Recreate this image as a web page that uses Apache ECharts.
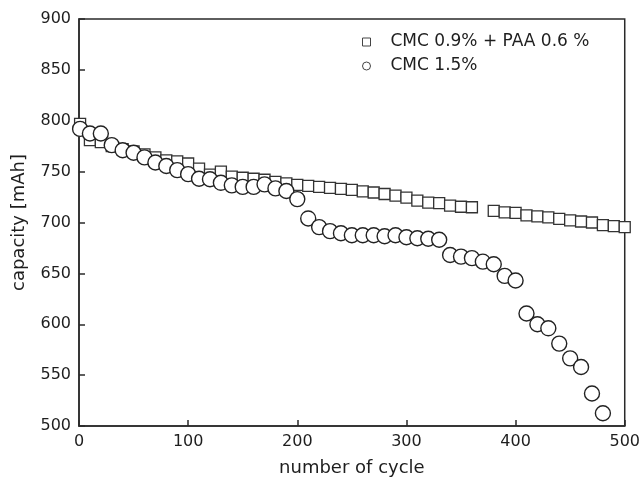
<!DOCTYPE html>
<html>
<head>
<meta charset="utf-8">
<script src="https://cdn.jsdelivr.net/npm/echarts@6/dist/echarts.min.js"></script>
<style>
  html, body { margin: 0; padding: 0; background: #fff; }
  #chart { width: 643px; height: 482px; }
</style>
</head>
<body>
<div id="chart"></div>
<script>
// cycle numbers and capacities
const cyclesPaa = [1, 10, 20, 30, 40, 50, 60, 70, 80, 90, 100, 110, 120, 130, 140, 150, 160, 170, 180, 190,
  200, 210, 220, 230, 240, 250, 260, 270, 280, 290, 300, 310, 320, 330, 340, 350, 360,
  380, 390, 400, 410, 420, 430, 440, 450, 460, 470, 480, 490, 500];
const capacityPaa = [797, 781, 779, 775, 772, 770, 767, 764, 761, 760, 758, 753, 747, 750, 745, 744, 743, 742, 740, 738.5,
  737, 736, 735, 734, 733, 732, 730.5, 729.5, 728, 726.5, 724.5, 721.5, 719.5, 719, 716.5, 715.5, 715,
  711.5, 710, 709.5, 707, 706, 705, 703.5, 702, 701, 700, 697.5, 696.5, 695.5];

const cyclesCmc = [1, 10, 20, 30, 40, 50, 60, 70, 80, 90, 100, 110, 120, 130, 140, 150, 160, 170, 180, 190,
  200, 210, 220, 230, 240, 250, 260, 270, 280, 290, 300, 310, 320, 330, 340, 350, 360, 370, 380, 390,
  400, 410, 420, 430, 440, 450, 460, 470, 480];
const capacityCmc = [792, 787.5, 787.5, 776, 771, 768.5, 764, 759, 755.5, 751.5, 747.5, 743, 742.5, 739, 736.5, 735, 735, 737.5, 733.5, 731,
  723, 704, 695.5, 691.5, 689.5, 687.5, 687.5, 687.5, 686.5, 687.5, 685.5, 684.5, 684, 683, 668, 666.5, 665, 661.5, 659, 647.5,
  643, 610.5, 600, 596, 581, 566.5, 558, 532, 512.5];

const seriesNames = ['CMC 0.9% + PAA 0.6 %', 'CMC 1.5%'];
const xTicks = [0, 100, 200, 300, 400, 500];
const yTicks = [500, 550, 600, 650, 700, 750, 800, 850, 900];

const ink = '#1e1e1e';
const fontFamily = '"DejaVu Sans", "Liberation Sans", Arial, sans-serif';

function pairs(xs, ys) {
  return xs.map((x, i) => [x, ys[i]]);
}

const chart = echarts.init(document.getElementById('chart'), null, { renderer: 'canvas' });

chart.setOption({
  backgroundColor: '#fff',
  animation: false,
  textStyle: { fontFamily: fontFamily },
  grid: {
    left: 79, right: 15, top: 19, bottom: 56,
    show: true, borderColor: '#2a2a2a', borderWidth: 1.5, backgroundColor: 'transparent'
  },
  legend: {
    orient: 'vertical',
    left: 357,
    top: 28,
    itemGap: 6,
    itemWidth: 8,
    itemHeight: 8,
    textStyle: { fontSize: 17, lineHeight: 18, color: ink, fontFamily: fontFamily, padding: [0, 0, 0, 15] },
    data: [
      { name: seriesNames[0], icon: 'rect', itemStyle: { color: '#fff', borderColor: '#444', borderWidth: 1 } },
      { name: seriesNames[1], icon: 'circle', itemStyle: { color: '#fff', borderColor: '#444', borderWidth: 1 } }
    ]
  },
  xAxis: {
    type: 'value',
    min: xTicks[0],
    max: xTicks[xTicks.length - 1],
    interval: 100,
    name: 'number of cycle',
    nameLocation: 'middle',
    nameGap: 33,
    nameTextStyle: { fontSize: 18, color: ink, fontFamily: fontFamily },
    axisLine: { show: true, lineStyle: { color: '#2a2a2a', width: 1.5 } },
    axisTick: { show: true, inside: true, length: 6, lineStyle: { color: '#2a2a2a', width: 1.5 } },
    axisLabel: { fontSize: 16, color: ink, margin: 8, fontFamily: fontFamily },
    splitLine: { show: false }
  },
  yAxis: {
    type: 'value',
    min: yTicks[0],
    max: yTicks[yTicks.length - 1],
    interval: 50,
    name: 'capacity [mAh]',
    nameLocation: 'middle',
    nameGap: 51,
    nameTextStyle: { fontSize: 18, color: ink, fontFamily: fontFamily },
    axisLine: { show: true, lineStyle: { color: '#2a2a2a', width: 1.5 } },
    axisTick: { show: true, inside: true, length: 6, lineStyle: { color: '#2a2a2a', width: 1.5 } },
    axisLabel: { fontSize: 16, color: ink, margin: 8, fontFamily: fontFamily },
    splitLine: { show: false }
  },
  series: [
    {
      name: seriesNames[0],
      type: 'scatter',
      symbol: 'rect',
      symbolSize: 11,
      itemStyle: { color: '#fff', borderColor: '#333', borderWidth: 1.3, opacity: 1 },
      data: pairs(cyclesPaa, capacityPaa),
      z: 2
    },
    {
      name: seriesNames[1],
      type: 'scatter',
      symbol: 'circle',
      symbolSize: 15,
      itemStyle: { color: '#fff', borderColor: '#222', borderWidth: 1.4, opacity: 1 },
      data: pairs(cyclesCmc, capacityCmc),
      z: 3
    }
  ]
});
</script>
</body>
</html>
